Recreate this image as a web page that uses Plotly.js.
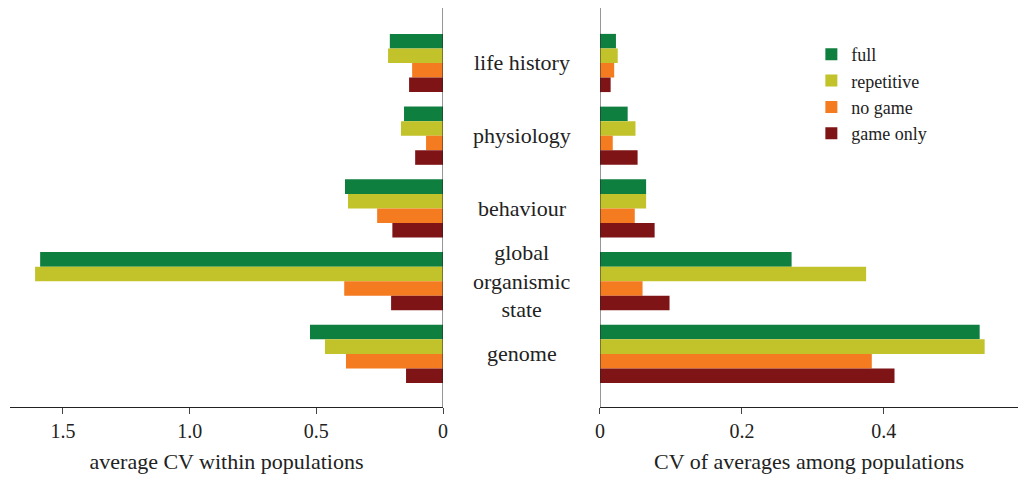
<html><head><script src="https://cdn.plot.ly/plotly-3.0.1.min.js"></script></head><body style="margin:0">
<div id="c" style="width:1020px;height:479px"></div>
<script>
const categories=["life history","physiology","behaviour","global organismic state","genome"];
const labels=["life history","physiology","behaviour","global<br>organismic<br>state","genome"];
const series=["full","repetitive","no game","game only"];
const colors=["#0f7f3f","#c2c22a","#f47b20","#7f1416"];
const within={full:[0.21,0.154,0.387,1.59,0.525],repetitive:[0.217,0.166,0.375,1.61,0.466],"no game":[0.122,0.067,0.26,0.39,0.383],"game only":[0.134,0.11,0.2,0.205,0.146]};
const among={full:[0.0225,0.039,0.065,0.27,0.535],repetitive:[0.025,0.05,0.065,0.375,0.542],"no game":[0.02,0.018,0.049,0.06,0.383],"game only":[0.015,0.053,0.077,0.098,0.415]};
const idx=categories.map((c,i)=>i);
const data=[];
series.forEach((s,k)=>{
 data.push({type:'bar',orientation:'h',y:idx,x:within[s],name:s,marker:{color:colors[k]},xaxis:'x',yaxis:'y',showlegend:false});
 data.push({type:'bar',orientation:'h',y:idx,x:among[s],name:s,marker:{color:colors[k]},xaxis:'x2',yaxis:'y2'});
});
const font={family:'Liberation Serif',size:20,color:'#222'};
const mfont={family:'Liberation Serif',size:22,color:'#222'};
const ya={range:[4.73,-0.756],showticklabels:false,ticks:'',showgrid:false,zeroline:false,showline:false};
const layout={font:font,barmode:'group',bargap:0.2,bargroupgap:0,margin:{l:10,r:2,t:8,b:72},
plot_bgcolor:'white',paper_bgcolor:'white',
xaxis:{domain:[0,0.4296],range:[1.709,0],tickvals:[0,0.5,1,1.5],ticktext:['0','0.5','1.0','1.5'],ticks:'outside',ticklen:6,showgrid:false,zeroline:false,showline:true,linecolor:'#222',title:{text:'average CV within populations',font:mfont,standoff:12},anchor:'y'},
xaxis2:{domain:[0.5853,1],range:[0,0.589],tickvals:[0,0.2,0.4],ticks:'outside',ticklen:6,showgrid:false,zeroline:false,showline:true,linecolor:'#222',title:{text:'CV of averages among populations',font:mfont,standoff:12},anchor:'y2'},
yaxis:ya,yaxis2:Object.assign({},ya,{anchor:'x2'}),
shapes:[{type:'line',xref:'x',yref:'paper',x0:0,x1:0,y0:0,y1:1,line:{color:'#222',width:1}},
{type:'line',xref:'x2',yref:'paper',x0:0,x1:0,y0:0,y1:1,line:{color:'#222',width:1}}],
annotations:labels.map((t,i)=>({text:t,xref:'paper',x:0.508,yref:'y',y:i,showarrow:false,font:i==3?Object.assign({},mfont,{lineposition:'none'}):mfont,align:'center',xanchor:'center'})).map((a,i)=>i==3?Object.assign(a,{text:'global<br><span style="line-height:1">organismic</span><br>state',font:Object.assign({},mfont,{size:22})}):a),
legend:{x:0.795,y:0.93,xanchor:'left',yanchor:'top',font:{family:'Liberation Serif',size:18,color:'#222'},tracegroupgap:0,itemwidth:30,bgcolor:'rgba(0,0,0,0)'}
};
Plotly.newPlot('c',data,layout,{displayModeBar:false});
</script></body></html>
